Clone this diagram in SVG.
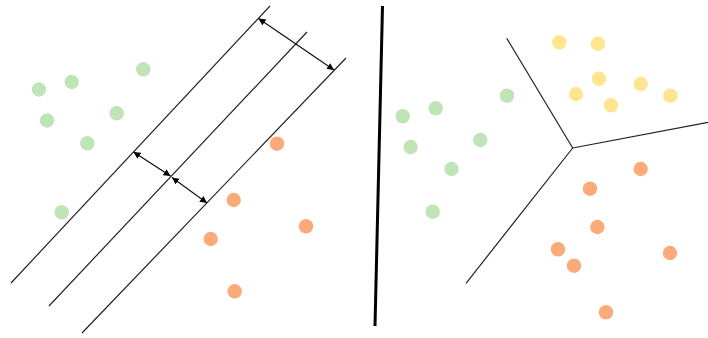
<svg xmlns="http://www.w3.org/2000/svg" width="708" height="338" viewBox="0 0 708 338">
<defs>
<style>
.g{fill:#bfe4b6}
.o{fill:#fcaa7a}
.y{fill:#ffe58f}
.ln{stroke:#222;stroke-width:1.2;fill:none}
.ar{stroke:#111;stroke-width:1.2;fill:none;marker-start:url(#ah);marker-end:url(#ah)}
.div{stroke:#000;stroke-width:3;fill:none}
</style>
<marker id="ah" viewBox="0 0 10 10" refX="10" refY="5" markerWidth="7" markerHeight="7" orient="auto-start-reverse" markerUnits="userSpaceOnUse">
<path d="M0,0 L10,5 L0,10 z" fill="#000"/>
</marker>
</defs>
<rect width="708" height="338" fill="#fff"/>
<g id="connectors">
<line class="ln" x1="270" y1="6" x2="11" y2="283"/>
<line class="ln" x1="307" y1="32" x2="49" y2="306"/>
<line class="ln" x1="346" y1="58" x2="82" y2="333"/>
<line class="ar" x1="258.5" y1="18.5" x2="334" y2="70"/>
<line class="ar" x1="133.5" y1="152" x2="170.5" y2="176"/>
<line class="ar" x1="172" y1="177.5" x2="207" y2="203"/>
<line class="div" x1="382.5" y1="6" x2="375" y2="326"/>
<line class="ln" x1="572.7" y1="148" x2="506.7" y2="38.3"/>
<line class="ln" x1="572.7" y1="148" x2="708" y2="122.3"/>
<line class="ln" x1="572.7" y1="148" x2="466" y2="283.3"/>
</g>
<g id="left-green">
<circle class="g" cx="39" cy="89.5" r="7.2"/>
<circle class="g" cx="71.7" cy="82" r="7.2"/>
<circle class="g" cx="143.3" cy="69.3" r="7.2"/>
<circle class="g" cx="47" cy="120.5" r="7.2"/>
<circle class="g" cx="116.7" cy="113.3" r="7.2"/>
<circle class="g" cx="87.3" cy="143.3" r="7.2"/>
<circle class="g" cx="61.7" cy="212.3" r="7.2"/>
</g>
<g id="left-orange">
<circle class="o" cx="277" cy="143.7" r="7.2"/>
<circle class="o" cx="233.7" cy="200" r="7.2"/>
<circle class="o" cx="210.7" cy="239" r="7.2"/>
<circle class="o" cx="306" cy="226.3" r="7.2"/>
<circle class="o" cx="234.7" cy="291.3" r="7.2"/>
</g>
<g id="right-green">
<circle class="g" cx="402.7" cy="116.3" r="7.2"/>
<circle class="g" cx="435.7" cy="108.3" r="7.2"/>
<circle class="g" cx="507" cy="95.7" r="7.2"/>
<circle class="g" cx="410.7" cy="147" r="7.2"/>
<circle class="g" cx="480.3" cy="140" r="7.2"/>
<circle class="g" cx="451.5" cy="169" r="7.2"/>
<circle class="g" cx="432.7" cy="211.7" r="7.2"/>
</g>
<g id="right-yellow">
<circle class="y" cx="559.3" cy="42.3" r="7.2"/>
<circle class="y" cx="598" cy="43.7" r="7.2"/>
<circle class="y" cx="599" cy="78.7" r="7.2"/>
<circle class="y" cx="576" cy="94" r="7.2"/>
<circle class="y" cx="640.7" cy="84" r="7.2"/>
<circle class="y" cx="611" cy="105.3" r="7.2"/>
<circle class="y" cx="670.3" cy="95.7" r="7.2"/>
</g>
<g id="right-orange">
<circle class="o" cx="640.7" cy="169" r="7.2"/>
<circle class="o" cx="590" cy="188.7" r="7.2"/>
<circle class="o" cx="597.3" cy="227" r="7.2"/>
<circle class="o" cx="558" cy="249.3" r="7.2"/>
<circle class="o" cx="574" cy="265.7" r="7.2"/>
<circle class="o" cx="670" cy="253" r="7.2"/>
<circle class="o" cx="606" cy="312.3" r="7.2"/>
</g>
</svg>
